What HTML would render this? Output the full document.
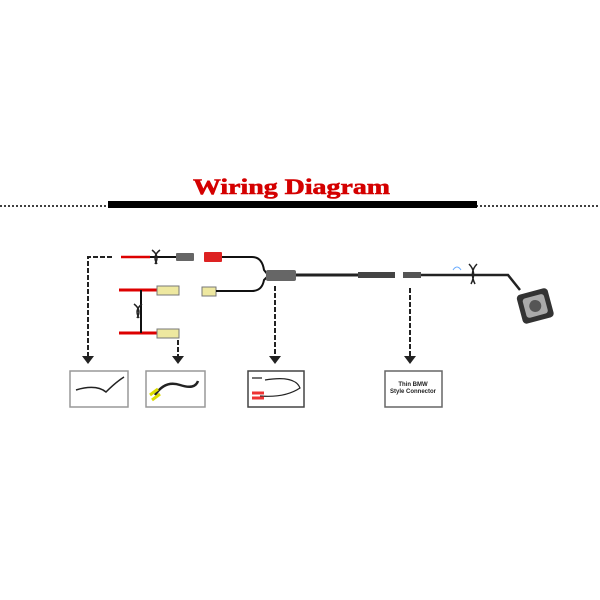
<!DOCTYPE html>
<html><head><meta charset="utf-8"><style>
html,body{margin:0;padding:0;background:#fff;width:600px;height:600px;overflow:hidden}
</style></head><body>
<svg width="600" height="600" viewBox="0 0 600 600" xmlns="http://www.w3.org/2000/svg">
<text x="193" y="194" textLength="197" lengthAdjust="spacingAndGlyphs" font-family="Liberation Serif,serif" font-weight="bold" font-size="22" fill="#d40000" stroke="#d40000" stroke-width="0.6">Wiring Diagram</text>
<line x1="0" y1="206" x2="600" y2="206" stroke="#000" stroke-width="1.5" stroke-dasharray="2,2"/>
<rect x="108" y="201" width="369" height="7" fill="#000"/>
<line x1="121" y1="257" x2="150" y2="257" stroke="#d00" stroke-width="2.5"/>
<line x1="150" y1="257" x2="176" y2="257" stroke="#111" stroke-width="2"/>
<path d="M152,250 q8,6 3,14 M160,250 q-8,6 -3,14" stroke="#222" fill="none" stroke-width="1.5"/>
<rect x="176" y="253" width="18" height="8" fill="#666" rx="1"/>
<rect x="204" y="252" width="18" height="10" fill="#d22" rx="1"/>
<path d="M222,257 H252 Q262,257 264,270 L268,275" stroke="#111" stroke-width="2" fill="none"/>
<rect x="202" y="287" width="14" height="9" fill="#eee8a0" stroke="#777" stroke-width="1"/>
<path d="M216,291 H252 Q262,291 264,280 L268,276" stroke="#111" stroke-width="2" fill="none"/>
<rect x="266" y="270" width="30" height="11" fill="#666" rx="2"/>
<line x1="296" y1="275" x2="360" y2="275" stroke="#222" stroke-width="3"/>
<rect x="358" y="272" width="37" height="6" fill="#444"/>
<rect x="403" y="272" width="18" height="6" fill="#555"/>
<path d="M421,275 H508 L520,290" stroke="#222" stroke-width="2.5" fill="none"/>
<path d="M469,264 q8,8 2,20 M477,264 q-8,8 -2,20" stroke="#222" fill="none" stroke-width="1.5"/>
<path d="M453,270 q4,-6 8,0" stroke="#6af" fill="none"/>
<g transform="rotate(-15 535 305)"><rect x="519" y="291" width="32" height="30" rx="4" fill="#333"/><rect x="524" y="296" width="22" height="20" rx="3" fill="#aaa"/><circle cx="535" cy="306" r="6" fill="#555"/></g>
<line x1="119" y1="290" x2="157" y2="290" stroke="#d00" stroke-width="3"/>
<rect x="157" y="286" width="22" height="9" fill="#eee8a0" stroke="#777"/>
<line x1="119" y1="333" x2="157" y2="333" stroke="#d00" stroke-width="3"/>
<rect x="157" y="329" width="22" height="9" fill="#eee8a0" stroke="#777"/>
<line x1="141" y1="290" x2="141" y2="333" stroke="#111" stroke-width="2"/>
<path d="M134,304 q8,6 3,14 M142,304 q-8,6 -3,14" stroke="#222" fill="none" stroke-width="1.5"/>
<g stroke="#222" stroke-width="2" stroke-dasharray="5,2" fill="none">
<path d="M112,257 H88 V357"/>
<path d="M178,340 V357"/>
<path d="M275,286 V357"/>
<path d="M410,288 V357"/>
</g>
<g fill="#222">
<path d="M82,356 h12 l-6,8z"/><path d="M172,356 h12 l-6,8z"/><path d="M269,356 h12 l-6,8z"/><path d="M404,356 h12 l-6,8z"/>
</g>
<g fill="#fff" stroke="#999" stroke-width="1.5">
<rect x="70" y="371" width="58" height="36"/><rect x="146" y="371" width="59" height="36"/>
<rect x="248" y="371" width="56" height="36" stroke="#444"/><rect x="385" y="371" width="57" height="36" stroke="#666"/>
</g>
<path d="M76,390 q20,-6 30,2 q10,-10 18,-15" stroke="#222" fill="none" stroke-width="1.5"/>
<path d="M155,395 q10,-15 25,-10 q15,5 18,-4" stroke="#222" fill="none" stroke-width="2.5"/>
<path d="M150,395 l8,-6 M152,400 l8,-6" stroke="#dd0" stroke-width="3"/>
<path d="M252,378 h10 M265,380 q30,-5 35,8 q-15,10 -40,8" stroke="#222" fill="none" stroke-width="1.2"/>
<path d="M252,398 h12 M252,393 h12" stroke="#e33" stroke-width="3"/>
<text x="413" y="386" text-anchor="middle" font-family="Liberation Sans,sans-serif" font-weight="bold" font-size="6" fill="#222">Thin BMW</text>
<text x="413" y="393" text-anchor="middle" font-family="Liberation Sans,sans-serif" font-weight="bold" font-size="6" fill="#222">Style Connector</text>
</svg>
</body></html>
